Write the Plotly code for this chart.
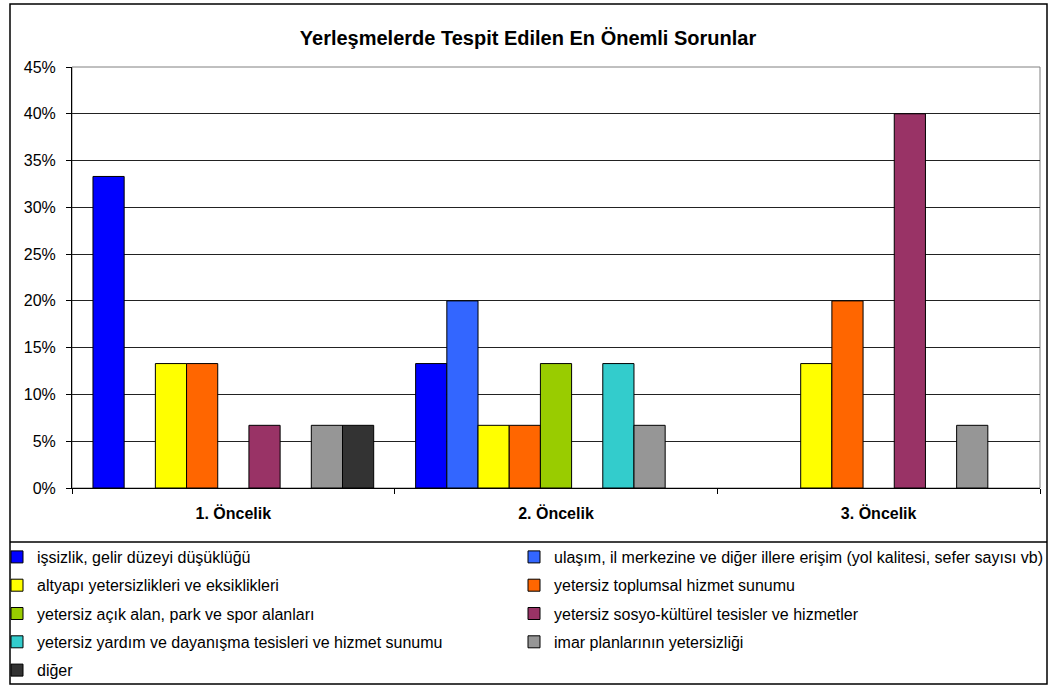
import plotly.graph_objects as go

# Kategoriler (öncelik sırası)
categories = ['1. Öncelik', '2. Öncelik', '3. Öncelik']

# Seri adları
series_names = [
    'işsizlik, gelir düzeyi düşüklüğü',
    'ulaşım, il merkezine ve diğer illere erişim (yol kalitesi, sefer sayısı vb)',
    'altyapı yetersizlikleri ve eksiklikleri',
    'yetersiz toplumsal hizmet sunumu',
    'yetersiz açık alan, park ve spor alanları',
    'yetersiz sosyo-kültürel tesisler ve hizmetler',
    'yetersiz yardım ve dayanışma tesisleri ve hizmet sunumu',
    'imar planlarının yetersizliği',
    'diğer',
]

# Seri değerleri (%), None = çubuk yok
issizlik = [33.3, 13.3, None]
ulasim = [None, 20.0, None]
altyapi = [13.3, 6.7, 13.3]
toplumsal = [13.3, 6.7, 20.0]
acik_alan = [None, 13.3, None]
sosyo_kulturel = [6.7, None, 40.0]
yardim = [None, 13.3, None]
imar = [6.7, 6.7, 6.7]
diger = [6.7, None, None]

series_values = [issizlik, ulasim, altyapi, toplumsal, acik_alan,
                 sosyo_kulturel, yardim, imar, diger]

colors = ['#0000FF', '#3366FF', '#FFFF00', '#FF6600', '#99CC00',
          '#993366', '#33CCCC', '#969696', '#333333']

# Y ekseni etiketleri
y_ticks = [0, 5, 10, 15, 20, 25, 30, 35, 40, 45]
y_tick_labels = ['0%', '5%', '10%', '15%', '20%', '25%', '30%', '35%', '40%', '45%']

# Sayfa ve çizim alanı ölçüleri (piksel)
W, H = 1051, 688
L, R, T, B = 72, 1040, 67, 488
FONT = 'Liberation Sans, Arial, sans-serif'


def px2x(px):
    return (px - L) / (R - L)


def py2y(py):
    return (B - py) / (B - T)


fig = go.Figure()

for i, (name, vals, color) in enumerate(zip(series_names, series_values, colors)):
    fig.add_trace(go.Bar(
        x=categories, y=vals, name=name,
        marker=dict(color=color, line=dict(color='#000000', width=1)),
        legend='legend' if i % 2 == 0 else 'legend2',
        legendgroup=name,
    ))

legend_common = dict(
    xanchor='left', yanchor='top', orientation='v',
    tracegroupgap=4.5, bgcolor='rgba(0,0,0,0)',
    font=dict(family=FONT, size=16, color='#000000'),
    itemclick=False, itemdoubleclick=False,
)

shapes = [
    # dış çerçeve
    dict(type='rect', xref='paper', yref='paper',
         x0=px2x(10), x1=px2x(1047), y0=py2y(684), y1=py2y(4),
         line=dict(color='#000000', width=1.5), layer='below'),
    # gösterge kutusu üst çizgisi
    dict(type='line', xref='paper', yref='paper',
         x0=px2x(10), x1=px2x(1047), y0=py2y(542), y1=py2y(542),
         line=dict(color='#000000', width=1.5)),
    # çizim alanı çerçevesi
    dict(type='rect', xref='paper', yref='paper',
         x0=0, x1=1, y0=0, y1=1,
         line=dict(color='#808080', width=1), layer='below'),
]

fig.update_layout(
    width=W, height=H,
    margin=dict(l=L, r=W - R, t=T, b=H - B, autoexpand=False),
    paper_bgcolor='white', plot_bgcolor='white',
    font=dict(family=FONT, size=16, color='#000000'),
    title=dict(text='Yerleşmelerde Tespit Edilen En Önemli Sorunlar',
               font=dict(family=FONT, size=20, weight='bold', color='#000000'),
               x=528 / W, xref='container', xanchor='center',
               y=1 - 38 / H, yref='container', yanchor='middle'),
    barmode='group', bargap=0.13, bargroupgap=0,
    showlegend=True,
    legend=dict(x=px2x(16 - 19), y=py2y(557 - 17), **legend_common),
    legend2=dict(x=px2x(533 - 19), y=py2y(557 - 17), **legend_common),
    shapes=shapes,
)

fig.update_xaxes(
    type='category', tickson='boundaries', ticks='outside', ticklen=5,
    tickcolor='#000000', showline=True, linecolor='#000000', linewidth=1,
    showgrid=False, ticklabelstandoff=11, automargin=False,
    tickfont=dict(family=FONT, size=16, weight='bold', color='#000000'),
)

fig.update_yaxes(
    range=[0, 45], tickmode='array', tickvals=y_ticks, ticktext=y_tick_labels,
    ticks='outside', ticklen=5, tickcolor='#000000',
    showline=True, linecolor='#000000', linewidth=1,
    showgrid=True, gridcolor='#222222', gridwidth=1, zeroline=False,
    ticklabelstandoff=7, automargin=False,
    tickfont=dict(family=FONT, size=16, color='#000000'),
)

# sayfa gövdesinin varsayılan kenar boşluğunu kaldır
fig.write_html('out.html',
               config={'displayModeBar': False},
               post_script="document.body.style.margin='0';"
                           "document.body.style.overflow='hidden';")
